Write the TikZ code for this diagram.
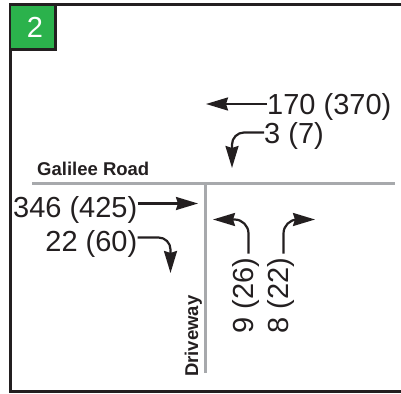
\documentclass[tikz,border=0pt]{standalone}
\usepackage{fontspec}
\setmainfont{Liberation Sans}
\usetikzlibrary{arrows.meta}
\definecolor{darkline}{RGB}{35,31,32}
\definecolor{roadgray}{RGB}{167,169,172}
\definecolor{boxgreen}{RGB}{43,178,76}

\begin{document}
\begin{tikzpicture}[%
      x=1pt, y=-1pt,
      num/.style={font=\fontsize{29}{29}\selectfont, text=darkline, inner sep=0pt, text height=21pt, text depth=0pt},
      roadname/.style={font=\fontsize{18.5}{18.5}\selectfont\bfseries, text=darkline, inner sep=0pt},
      flow/.style={color=darkline, line width=2.2pt, -{Stealth[length=22pt,width=13pt,inset=2pt]}},
      road/.style={color=roadgray, line width=3pt},
      ]
      \useasboundingbox (0,0) rectangle (401,393);
      \clip (0,0) rectangle (401,393);
      \draw [color=darkline, line width=3pt] (10,5) rectangle (410,391.5);
      \filldraw [fill=boxgreen, draw=darkline, line width=2.5pt] (10,5) rectangle (55.5,49.5);
      \node [num, text=white, anchor=base] (zone) at (35,38) {2};

      \coordinate (roadW) at (32,183);
      \coordinate (roadE) at (395,183);
      \coordinate (drvN) at (205,182);
      \coordinate (drvS) at (205,373);
      \draw [road] (roadW) -- (roadE);
      \draw [road] (drvN) -- (drvS);

      \node [roadname, anchor=base west] (galilee) at (37,175.5) {Galilee Road};
      \node [roadname, anchor=base west, rotate=90] (driveway) at (198,377) {Driveway};

      \node [num, anchor=west] (wbT) at (267,104) {170 (370)};
      \coordinate (wbTtip) at (206,104);
      \draw [flow] (wbT.west) -- (wbTtip);

      \node [num, anchor=west] (wbR) at (264,132.5) {3 (7)};
      \coordinate (wbRtip) at (232,168);
      \draw [flow, rounded corners=12pt] (wbR.west) -| (wbRtip);

      \node [num, anchor=east] (ebT) at (137.5,207) {346 (425)};
      \coordinate (ebTtip) at (198,203.5);
      \draw [flow] ([yshift=3.5pt]ebT.east) -- (ebTtip);

      \node [num, anchor=east] (ebR) at (137.5,240.5) {22 (60)};
      \coordinate (ebRtip) at (170.5,273);
      \draw [flow, rounded corners=12pt] ([yshift=3pt]ebR.east) -| (ebRtip);

      \node [num, anchor=east, rotate=90] (nbL) at (242.5,257.5) {9 (26)};
      \coordinate (nbLtip) at (213,219.5);
      \draw [flow, rounded corners=14pt] ([shift={(6pt,4pt)}]nbL.east) |- (nbLtip);

      \node [num, anchor=east, rotate=90] (nbR) at (277.5,257.5) {8 (22)};
      \coordinate (nbRtip) at (315,219.5);
      \draw [flow, rounded corners=14pt] ([shift={(6pt,4pt)}]nbR.east) |- (nbRtip);
\end{tikzpicture}
\end{document}
